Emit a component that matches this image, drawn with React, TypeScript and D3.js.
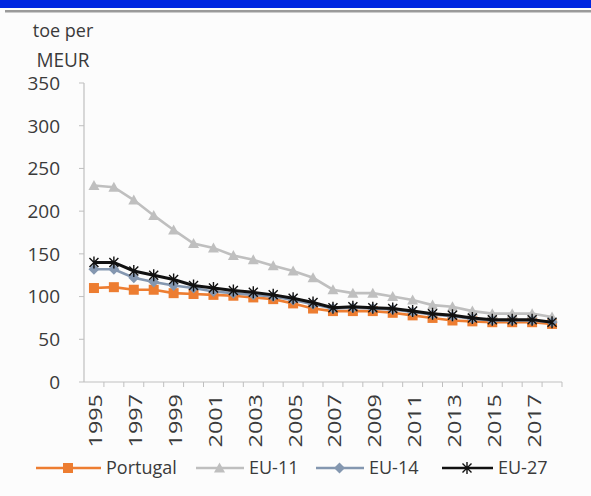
import React from "react";
import * as d3 from "d3";

const years = d3.range(1995, 2019).map(String);
const yTicks = [0, 50, 100, 150, 200, 250, 300, 350];
const portugal = [110, 111, 108, 108, 104, 103, 102, 101, 99, 97, 92, 86, 83, 83, 83, 81, 78, 75, 72, 71, 70, 70, 70, 68];
const eu11 = [230, 228, 213, 195, 178, 162, 157, 148, 143, 136, 130, 122, 108, 104, 104, 100, 96, 90, 88, 83, 80, 80, 80, 76];
const eu14 = [132, 132, 122, 117, 113, 110, 106, 104, 102, 100, 96, 91, 86, 87, 86, 85, 82, 79, 77, 74, 72, 72, 72, 70];
const eu27 = [140, 140, 130, 125, 120, 113, 110, 107, 105, 102, 98, 93, 87, 88, 87, 86, 83, 80, 78, 75, 73, 73, 73, 70];

const seriesNames = ["Portugal", "EU-11", "EU-14", "EU-27"];
const seriesData = [portugal, eu11, eu14, eu27];
const colors = ["#ED7D31", "#BFBFBF", "#8497B0", "#111111"];
const markers = ["square", "triangle", "diamond", "star"];

const W = 591, H = 496;
const FONT = "'Open Sans', 'DejaVu Sans', sans-serif";
const TXT = "#3a3a3a";

function Marker({ type, x, y, color }: { type: string; x: number; y: number; color: string }) {
  if (type === "square") return <rect x={x - 5} y={y - 5} width={10} height={10} fill={color} />;
  if (type === "triangle") return <path d={`M${x},${y - 5.5}L${x + 5.5},${y + 4.5}L${x - 5.5},${y + 4.5}Z`} fill={color} />;
  if (type === "diamond") return <path d={`M${x},${y - 5.5}L${x + 5.5},${y}L${x},${y + 5.5}L${x - 5.5},${y}Z`} fill={color} />;
  return (
    <path d={`M${x - 4.5},${y - 4.5}L${x + 4.5},${y + 4.5}M${x - 4.5},${y + 4.5}L${x + 4.5},${y - 4.5}M${x},${y - 6}L${x},${y + 6}`} stroke={color} strokeWidth={1.4} fill="none" />
  );
}

export default function App() {
  const x = d3.scaleBand<string>().domain(years).range([84, 562]);
  const y = d3.scaleLinear().domain([0, 350]).range([382, 83]);
  const cx = (d: string) => (x(d) as number) + x.bandwidth() / 2;
  const line = d3.line<number>().x((_, i) => cx(years[i])).y((v) => y(v));

  const legendItems = [
    { lx: 36, tx: 106 },
    { lx: 196, tx: 249 },
    { lx: 316, tx: 369 },
    { lx: 442, tx: 498 },
  ];

  return (
    <svg width={W} height={H} style={{ position: "absolute", left: 0, top: 0, background: "#fcfcfc" }} fontFamily={FONT}>
      <rect x={0} y={0} width={W} height={8} fill="#0026E0" />
      <rect x={5} y={10} width={W - 5} height={2.5} fill="#9a9a9a" />

      <text x={63} y={37} fontSize={18} fill={TXT} textAnchor="middle">toe per</text>
      <text x={63} y={67} fontSize={19} fill={TXT} textAnchor="middle" transform="translate(0,-6) scale(1,1.09)">MEUR</text>

      {yTicks.map((t) => (
        <g key={t}>
          <line x1={79} x2={84} y1={y(t)} y2={y(t)} stroke="#BFBFBF" />
          <text x={60} y={y(t)} dy="0.36em" fontSize={19} fill={TXT} textAnchor="end">{t}</text>
        </g>
      ))}
      <line x1={84} x2={84} y1={y(350)} y2={y(0)} stroke="#BFBFBF" strokeWidth={1.2} />
      <line x1={84} x2={562} y1={y(0)} y2={y(0)} stroke="#BFBFBF" strokeWidth={1.2} />
      {years.map((yr) => (
        <line key={yr} x1={(x(yr) as number) + x.bandwidth()} x2={(x(yr) as number) + x.bandwidth()} y1={y(0)} y2={y(0) + 5} stroke="#BFBFBF" />
      ))}
      {years.map((yr, i) =>
        i % 2 === 0 ? (
          <text key={yr} transform={`translate(${cx(yr) + 2},${394}) rotate(-90) scale(1.3,1)`} dy="0.36em" fontSize={18} fill={TXT} textAnchor="end">{yr}</text>
        ) : null
      )}

      {seriesData.map((data, si) => (
        <g key={seriesNames[si]}>
          <path d={line(data) as string} fill="none" stroke={colors[si]} strokeWidth={si === 3 ? 3 : 2.6} />
          {data.map((v, i) => (
            <Marker key={i} type={markers[si]} x={cx(years[i])} y={y(v)} color={colors[si]} />
          ))}
        </g>
      ))}

      {seriesNames.map((name, si) => {
        const { lx, tx } = legendItems[si];
        const ly = 468;
        const mid = (lx + tx - 6) / 2;
        return (
          <g key={name}>
            <line x1={lx} x2={tx - 5} y1={ly} y2={ly} stroke={colors[si]} strokeWidth={2.6} />
            <Marker type={markers[si]} x={mid} y={ly} color={colors[si]} />
            <text x={tx} y={ly} dy="0.36em" fontSize={18} fill={TXT}>{name}</text>
          </g>
        );
      })}
    </svg>
  );
}
